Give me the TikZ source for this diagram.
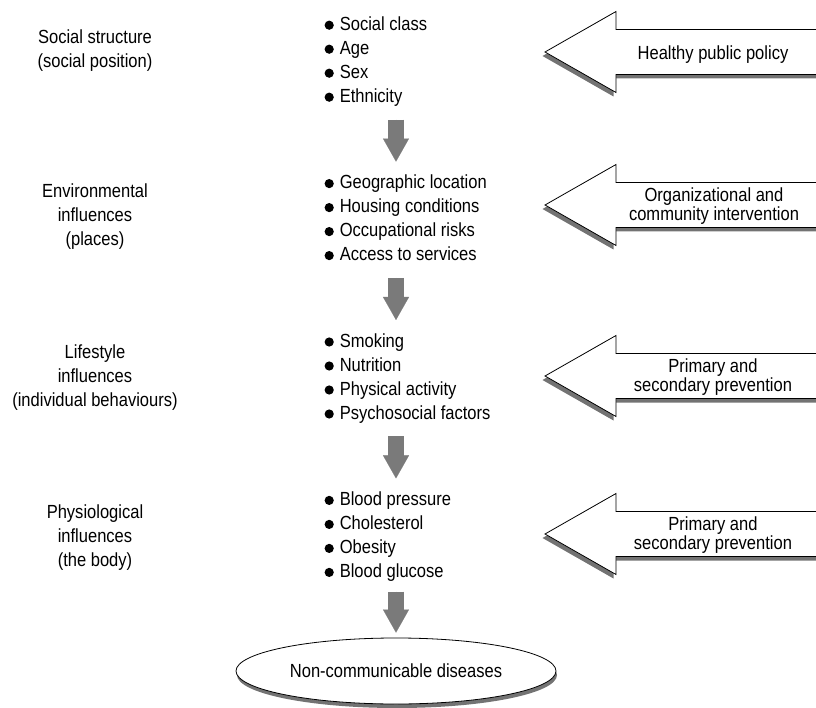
\documentclass[tikz,border=0pt]{standalone}
\usepackage{fontspec}
\setmainfont{Liberation Sans}[FakeStretch=0.87]
\usepackage{tikz}
\usetikzlibrary{arrows.meta}
\usetikzlibrary{positioning}
\usetikzlibrary{shapes.geometric}
\usetikzlibrary{shadows}
\newcommand{\dotitem}{\strut\tikz[baseline=-5pt]\fill (0,0) circle (4.6pt);\hspace{6pt}}

\begin{document}
\begin{tikzpicture}[
		x=1pt, y=-1pt,
		every node/.style = {
			font=\fontsize{19}{24}\selectfont, inner sep=0pt
		},
		factor/.style = {
			align=center
		},
		items/.style = {
			align=left, anchor=north west
		},
		flow/.style = {
			draw=black!52, line width=0.1pt,
			-{Triangle[width=26pt, length=23pt]},
			shorten <=10pt, shorten >=10pt,
			preaction={draw=black!52, line width=16pt, -, shorten >=27pt}
		},
		banner/.style = {
			draw, fill=white, line width=0.8pt,
			drop shadow={shadow xshift=-2.5pt, shadow yshift=-4pt, fill=black!55, opacity=1}
		},
		action/.style = {
			align=center, font=\fontsize{19}{19.5}\selectfont
		},
		outcome/.style = {
			ellipse, draw, fill=white, line width=0.8pt,
			minimum width=320pt, minimum height=66pt,
			drop shadow={shadow xshift=1pt, shadow yshift=-4pt, fill=black!55, opacity=1}
		}
	]
	\useasboundingbox (0,0) rectangle (816,708);

	% levels of influence
	\node[factor] (social) at (95,51) {Social structure\\(social position)};
	\node[factor] (environ) at (95,217) {Environmental\\influences\\(places)};
	\node[factor] (lifestyle) at (95,378) {Lifestyle\\influences\\(individual behaviours)};
	\node[factor] (physio) at (95,538) {Physiological\\influences\\(the body)};

	% determinants
	\node[items] (position) at (324.4,13.2)
		{\dotitem Social class\\ \dotitem Age\\ \dotitem Sex\\ \dotitem Ethnicity};
	\node[items, below=62pt of position.south west, anchor=north west] (places)
		{\dotitem Geographic location\\ \dotitem Housing conditions\\
		 \dotitem Occupational risks\\ \dotitem Access to services};
	\node[items, below=62pt of places.south west, anchor=north west] (behaviour)
		{\dotitem Smoking\\ \dotitem Nutrition\\
		 \dotitem Physical activity\\ \dotitem Psychosocial factors};
	\node[items, below=62pt of behaviour.south west, anchor=north west] (body)
		{\dotitem Blood pressure\\ \dotitem Cholesterol\\
		 \dotitem Obesity\\ \dotitem Blood glucose};
	\node[outcome] (ncd) at (396,671) {Non-communicable diseases};

	\draw[flow] ([xshift=71.6pt]position.south west) -- ([xshift=71.6pt]places.north west);
	\draw[flow] ([xshift=71.6pt]places.south west) -- ([xshift=71.6pt]behaviour.north west);
	\draw[flow] ([xshift=71.6pt]behaviour.south west) -- ([xshift=71.6pt]body.north west);
	\draw[flow, shorten <=6.8pt, shorten >=5pt] ([xshift=71.6pt]body.south west) -- (ncd.north);

	% interventions
	\draw[banner] (545,52) -- ++(71,-40.5) -- ++(0,18) -- ++(220,0) -- ++(0,45)
		-- ++(-220,0) -- ++(0,18) -- cycle;
	\draw[banner] (545,205) -- ++(71,-40.5) -- ++(0,18) -- ++(220,0) -- ++(0,45)
		-- ++(-220,0) -- ++(0,18) -- cycle;
	\draw[banner] (545,376) -- ++(71,-40.5) -- ++(0,18) -- ++(220,0) -- ++(0,45)
		-- ++(-220,0) -- ++(0,18) -- cycle;
	\draw[banner] (545,534) -- ++(71,-40.5) -- ++(0,18) -- ++(220,0) -- ++(0,45)
		-- ++(-220,0) -- ++(0,18) -- cycle;
	\node[action] (policy) at (713,55) {Healthy public policy};
	\node[action] (community) at (714,206) {Organizational and\\community intervention};
	\node[action] (prevent1) at (713,377) {Primary and\\secondary prevention};
	\node[action] (prevent2) at (713,535) {Primary and\\secondary prevention};
\end{tikzpicture}
\end{document}
